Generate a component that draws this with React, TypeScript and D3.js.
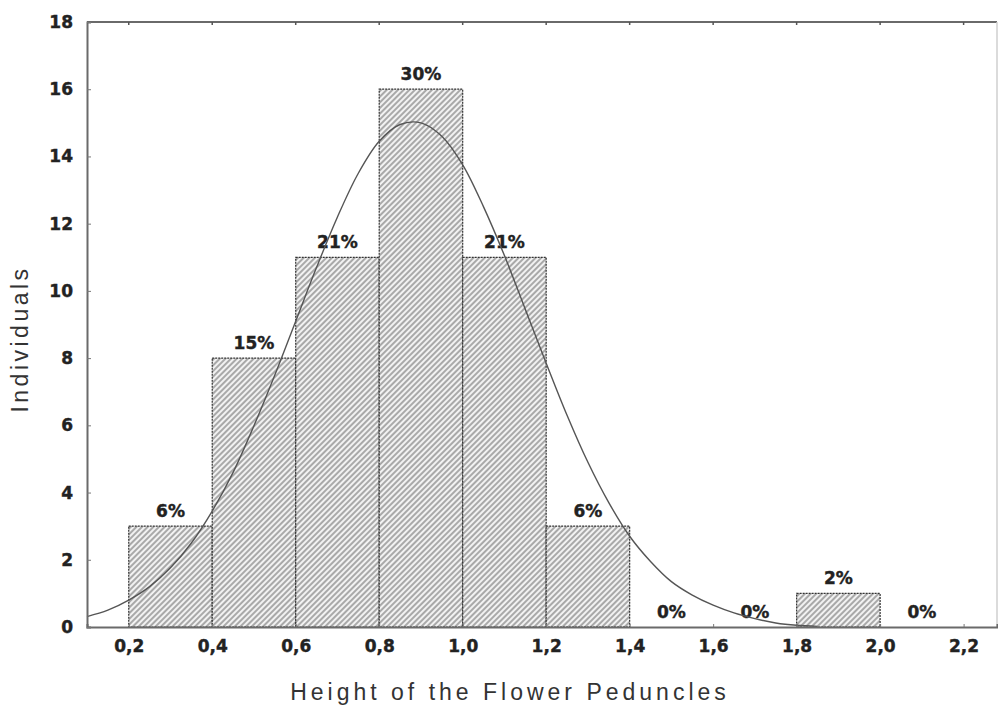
import React, { useEffect, useRef } from 'react';
import * as d3 from 'd3';

// histogram bins (lower edges), counts and labels
const binStarts = [0.2, 0.4, 0.6, 0.8, 1.0, 1.2, 1.4, 1.6, 1.8, 2.0];
const counts = [3, 8, 11, 16, 11, 3, 0, 0, 1, 0];
const percentLabels = ['6%', '15%', '21%', '30%', '21%', '6%', '0%', '0%', '2%', '0%'];
const binWidth = 0.2;

const xTicks = [0.2, 0.4, 0.6, 0.8, 1.0, 1.2, 1.4, 1.6, 1.8, 2.0, 2.2];
const yTicks = [0, 2, 4, 6, 8, 10, 12, 14, 16, 18];

// fitted normal curve
const curveX = [0.1, 0.15, 0.2, 0.25, 0.3, 0.35, 0.4, 0.45, 0.5, 0.55, 0.6, 0.65, 0.7, 0.75, 0.8, 0.85, 0.9,
  0.95, 1.0, 1.05, 1.1, 1.15, 1.2, 1.25, 1.3, 1.35, 1.4, 1.45, 1.5, 1.55, 1.6, 1.65, 1.7, 1.75, 1.8, 1.85];
const curveY = [0.31, 0.5, 0.8, 1.2, 1.76, 2.5, 3.45, 4.6, 5.99, 7.5, 9.1, 10.7, 12.2, 13.5, 14.45, 14.95, 15.0,
  14.6, 13.75, 12.5, 11.05, 9.45, 7.85, 6.3, 4.9, 3.7, 2.7, 1.95, 1.35, 0.95, 0.65, 0.42, 0.25, 0.12, 0.05, 0.02];

const App = () => {
  const svgRef = useRef<SVGSVGElement>(null);

  useEffect(() => {
    const svg = d3.select(svgRef.current);
    svg.selectAll('*').remove();

    const left = 87, right = 997, top = 22, bottom = 627;
    const x = d3.scaleLinear().domain([0.1, 2.28]).range([left, right]);
    const y = d3.scaleLinear().domain([0, 18]).range([bottom, top]);

    const defs = svg.append('defs');
    const pat = defs.append('pattern')
      .attr('id', 'hatch')
      .attr('patternUnits', 'userSpaceOnUse')
      .attr('width', 4)
      .attr('height', 4)
      .attr('patternTransform', 'rotate(45)');
    pat.append('rect').attr('width', 4).attr('height', 4).attr('fill', '#f2f2f2');
    pat.append('line')
      .attr('x1', 1).attr('y1', 0).attr('x2', 1).attr('y2', 4)
      .attr('stroke', '#8a8a8a').attr('stroke-width', 1.4);

    // frame
    const frame = '#6a6a6a';
    svg.append('line').attr('x1', left).attr('x2', right).attr('y1', top).attr('y2', top)
      .attr('stroke', frame).attr('stroke-width', 2);
    svg.append('line').attr('x1', right).attr('x2', right).attr('y1', top).attr('y2', bottom)
      .attr('stroke', '#cfcfcf').attr('stroke-width', 1.5);

    // bars
    const bars = binStarts.map((b, i) => ({ b, c: counts[i], label: percentLabels[i] }));
    svg.selectAll('.bar')
      .data(bars.filter(d => d.c > 0))
      .enter().append('rect')
      .attr('class', 'bar')
      .attr('x', d => x(d.b))
      .attr('y', d => y(d.c))
      .attr('width', d => x(d.b + binWidth) - x(d.b))
      .attr('height', d => y(0) - y(d.c))
      .attr('fill', 'url(#hatch)')
      .attr('stroke', '#333')
      .attr('stroke-width', 1.2)
      .attr('stroke-dasharray', '2,1');

    // percentage labels
    svg.selectAll('.pct')
      .data(bars)
      .enter().append('text')
      .attr('class', 'pct')
      .attr('x', d => x(d.b + binWidth / 2))
      .attr('y', d => y(d.c) - 9)
      .attr('text-anchor', 'middle')
      .attr('font-family', 'DejaVu Sans, sans-serif')
      .attr('font-weight', 'bold')
      .attr('font-size', 17)
      .attr('fill', '#222')
      .attr('stroke', '#222')
      .attr('stroke-width', 0.4)
      .text(d => d.label);

    // normal curve
    const pts = curveX.map((v, i) => [v, curveY[i]] as [number, number]);
    svg.append('path')
      .attr('d', d3.line<[number, number]>().x(d => x(d[0])).y(d => y(d[1])).curve(d3.curveCatmullRom)(pts) as string)
      .attr('fill', 'none')
      .attr('stroke', '#555')
      .attr('stroke-width', 1.4);

    // axes
    const xAxis = svg.append('g').attr('transform', `translate(0,${bottom})`)
      .call(d3.axisBottom(x).tickValues(xTicks).tickSize(-3).tickPadding(13)
        .tickFormat(d => d3.format('.1f')(d as number).replace('.', ',')));
    const yAxis = svg.append('g').attr('transform', `translate(${left},0)`)
      .call(d3.axisLeft(y).tickValues(yTicks).tickSize(-4).tickPadding(14).tickFormat(d3.format('d')));
    [xAxis, yAxis].forEach(a => {
      a.select('.domain').attr('stroke', frame).attr('stroke-width', 2);
      a.selectAll('.tick line').attr('stroke', '#777');
      a.selectAll('.tick text')
        .attr('font-family', 'DejaVu Sans, sans-serif')
        .attr('font-weight', 'bold')
        .attr('font-size', 17)
        .attr('fill', '#222')
        .attr('stroke', '#222')
        .attr('stroke-width', 0.4);
    });
    // top ticks
    svg.selectAll('.ttick')
      .data(xTicks)
      .enter().append('line')
      .attr('x1', d => x(d)).attr('x2', d => x(d))
      .attr('y1', top).attr('y2', top + 3)
      .attr('stroke', '#555').attr('stroke-width', 1.5);

    // titles
    svg.append('text')
      .attr('x', 510).attr('y', 700)
      .attr('text-anchor', 'middle')
      .attr('font-family', 'Liberation Sans, Arial, sans-serif')
      .attr('font-size', 23)
      .attr('letter-spacing', 4)
      .attr('fill', '#333')
      .text('Height of the Flower Peduncles');
    svg.append('text')
      .attr('transform', 'translate(28,339) rotate(-90)')
      .attr('text-anchor', 'middle')
      .attr('font-family', 'Liberation Sans, Arial, sans-serif')
      .attr('font-size', 23)
      .attr('letter-spacing', 3.5)
      .attr('fill', '#333')
      .text('Individuals');
  }, []);

  return (
    <svg ref={svgRef} width={998} height={707}
      style={{ position: 'absolute', left: 0, top: 0, background: '#fff' }} />
  );
};

export default App;
